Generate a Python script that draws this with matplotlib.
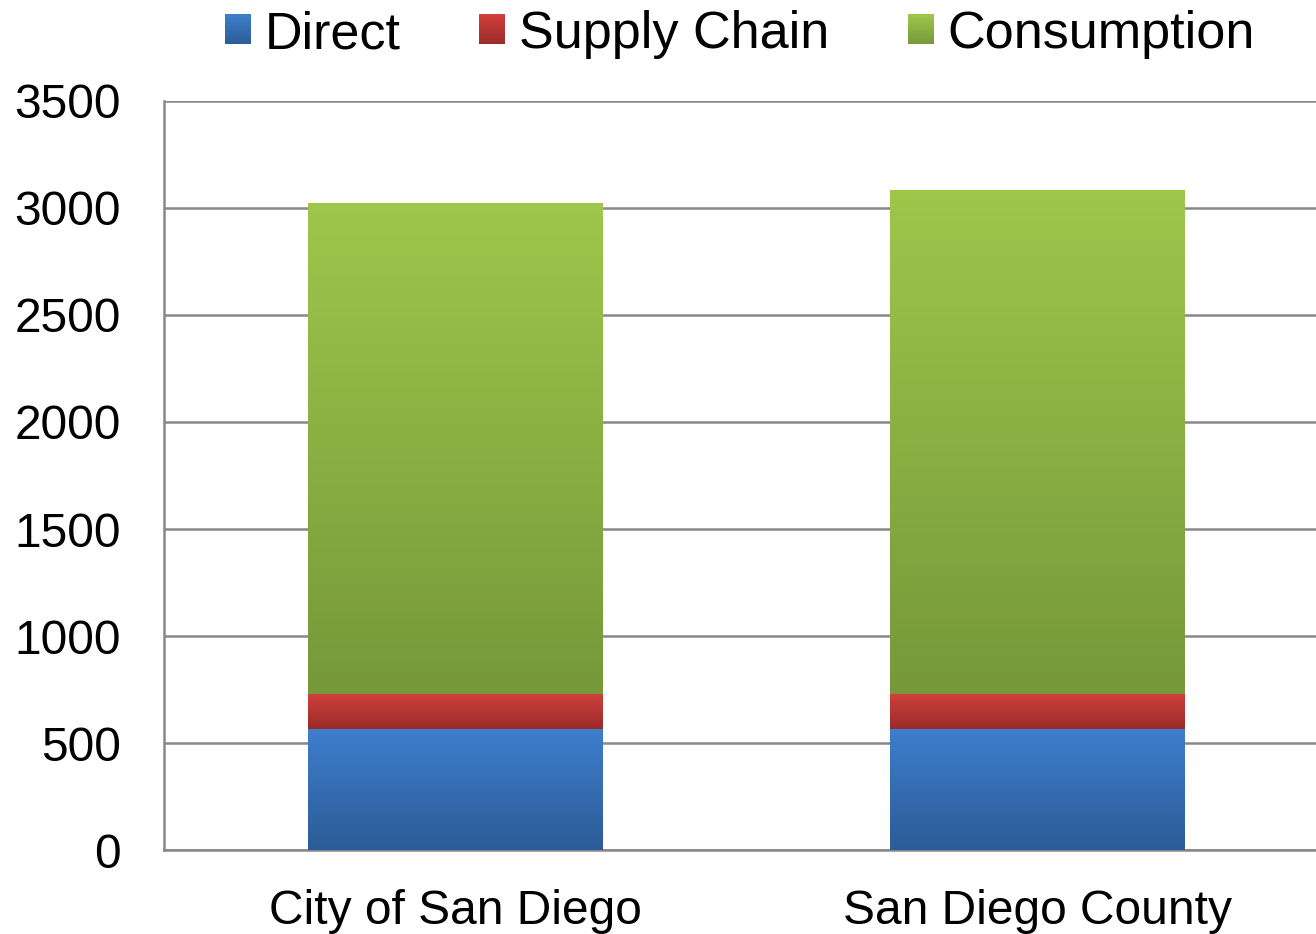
import numpy as np
import matplotlib
matplotlib.use("Agg")
import matplotlib.pyplot as plt
from matplotlib.patches import Rectangle
from matplotlib.legend_handler import HandlerBase
from matplotlib.colors import to_rgb

plt.rcParams["font.family"] = ["Liberation Sans", "DejaVu Sans"]

# ---- data ----
categories = ["City of San Diego", "San Diego County"]
series_names = ["Direct", "Supply Chain", "Consumption"]
direct = [565, 565]
supply_chain = [164, 164]
consumption = [2296, 2355]
yticks = [0, 500, 1000, 1500, 2000, 2500, 3000, 3500]

# gradient colours (bottom, top)
grad_colors = {
    "Direct": ("#2c5c97", "#3e7ecd"),
    "Supply Chain": ("#992b29", "#d1403c"),
    "Consumption": ("#76983a", "#9ec74b"),
}


def gradient_array(bottom, top, n=256):
    b = np.array(to_rgb(bottom))
    t = np.array(to_rgb(top))
    f = np.linspace(0, 1, n)[:, None]
    return (b + (t - b) * f)[:, None, :]


class GradHandler(HandlerBase):
    def __init__(self, bottom, top):
        super().__init__()
        self.bottom = np.array(to_rgb(bottom))
        self.top = np.array(to_rgb(top))

    def create_artists(self, legend, orig_handle, xdescent, ydescent,
                       width, height, fontsize, trans):
        n = 16
        arts = []
        h = height / n
        for i in range(n):
            f = (i + 0.5) / n
            c = self.bottom + (self.top - self.bottom) * f
            r = Rectangle((-xdescent, -ydescent + i * h), width, h * 1.15,
                          facecolor=c, edgecolor="none", linewidth=0,
                          transform=trans)
            arts.append(r)
        return arts


fig = plt.figure(figsize=(13.16, 9.34), dpi=100)
ax = fig.add_axes([0.1246, 0.0899, 0.885, 0.802])

x = np.arange(len(categories))
width = 0.505
bottoms = np.zeros(len(categories))
series_values = [direct, supply_chain, consumption]
handles = []
for name, vals in zip(series_names, series_values):
    bars = ax.bar(x, vals, width, bottom=bottoms, facecolor="none",
                  edgecolor="none", linewidth=0, zorder=3, label=name)
    bcol, tcol = grad_colors[name]
    for p in bars.patches:
        x0, y0 = p.get_x(), p.get_y()
        w, h = p.get_width(), p.get_height()
        im = ax.imshow(gradient_array(bcol, tcol), extent=[x0, x0 + w, y0, y0 + h],
                       aspect="auto", origin="lower", zorder=3,
                       interpolation="bilinear")
        im.set_clip_path(p)
    handles.append(bars)
    bottoms = bottoms + np.array(vals)

ax.set_xlim(-0.5, 1.5)
ax.set_ylim(0, 3500)
ax.set_yticks(yticks)
ax.set_yticklabels([str(v) for v in yticks])
ax.set_xticks(x)
ax.set_xticklabels(categories)

ax.yaxis.grid(True, color="#888888", linewidth=1.8, zorder=1)
ax.set_axisbelow(True)
for s in ["top", "right"]:
    ax.spines[s].set_visible(False)
for s in ["left", "bottom"]:
    ax.spines[s].set_color("#888888")
    ax.spines[s].set_linewidth(1.8)
ax.tick_params(axis="y", length=0, pad=31, labelsize=34.5, colors="black")
ax.tick_params(axis="x", length=0, pad=28, labelsize=34.5, colors="black")

handler_map = {h: GradHandler(*grad_colors[n]) for h, n in zip(handles, series_names)}
fig.legend(handles, series_names, handler_map=handler_map, loc="center",
           bbox_to_anchor=(0.5623, 0.963), ncol=3, frameon=False,
           fontsize=37.5, handlelength=0.5, handleheight=0.5,
           handletextpad=0.27, columnspacing=1.5, borderpad=0, borderaxespad=0)

fig.savefig("out.png", dpi=100)
